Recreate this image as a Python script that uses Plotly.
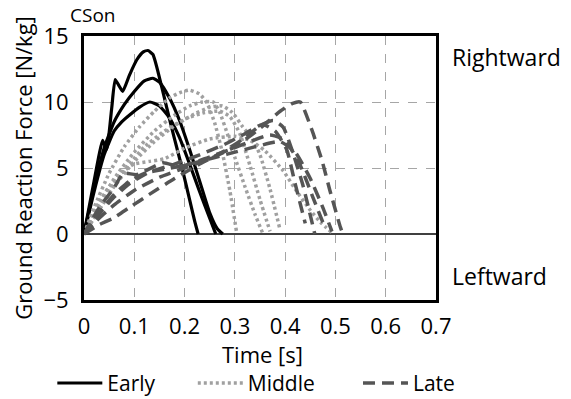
import plotly.graph_objects as go

# ---- data ----
early_t = [
    [0, 0.01, 0.02, 0.03, 0.037, 0.045, 0.055, 0.062, 0.07, 0.077, 0.09, 0.105, 0.118, 0.127, 0.137, 0.151, 0.165, 0.18, 0.195, 0.21, 0.22, 0.227],
    [0, 0.02, 0.04, 0.06, 0.08, 0.10, 0.12, 0.137, 0.15, 0.17, 0.19, 0.21, 0.23, 0.25, 0.265, 0.276],
    [0, 0.02, 0.04, 0.06, 0.075, 0.09, 0.11, 0.131, 0.15, 0.17, 0.19, 0.21, 0.23, 0.25, 0.262],
]
early_v = [
    [0, 2.0, 4.0, 6.0, 7.1, 6.4, 9.5, 11.7, 11.2, 10.8, 12.0, 13.2, 13.8, 13.9, 13.6, 11.7, 9.5, 7.2, 5.0, 2.6, 1.0, 0],
    [0, 3.5, 6.5, 8.5, 9.8, 10.8, 11.6, 11.8, 11.5, 10.3, 8.6, 6.4, 4.0, 1.6, 0.4, 0],
    [0, 3.2, 6.0, 7.8, 8.5, 9.0, 9.6, 10.0, 9.7, 8.8, 7.3, 5.3, 3.2, 1.2, 0],
]
middle_t = [
    [0, 0.02, 0.05, 0.08, 0.11, 0.14, 0.17, 0.19, 0.21, 0.23, 0.245, 0.26, 0.275, 0.29, 0.304],
    [0, 0.03, 0.06, 0.10, 0.14, 0.18, 0.21, 0.235, 0.257, 0.27, 0.285, 0.30, 0.32, 0.34, 0.356],
    [0, 0.03, 0.06, 0.10, 0.14, 0.18, 0.22, 0.25, 0.275, 0.295, 0.316, 0.335, 0.35, 0.37, 0.39],
    [0, 0.03, 0.05, 0.08, 0.10, 0.13, 0.16, 0.20, 0.25, 0.30, 0.33, 0.36, 0.396, 0.42, 0.45, 0.47, 0.493],
    [0, 0.03, 0.06, 0.09, 0.12, 0.16, 0.20, 0.24, 0.27, 0.29, 0.31, 0.33, 0.35, 0.37],
]
middle_v = [
    [0, 2.0, 4.6, 6.6, 8.1, 9.3, 10.3, 10.7, 10.9, 10.6, 9.9, 8.4, 6.2, 3.3, 0],
    [0, 2.2, 4.2, 6.2, 7.8, 9.0, 9.7, 10.0, 10.0, 9.2, 7.6, 5.8, 3.6, 1.5, 0],
    [0, 1.8, 3.6, 5.5, 7.0, 8.2, 9.1, 9.6, 9.7, 9.2, 8.1, 7.2, 6.0, 3.4, 0.3],
    [0, 2.4, 3.6, 4.8, 5.3, 5.5, 5.7, 6.5, 7.2, 7.4, 7.1, 6.3, 4.8, 3.4, 1.8, 0.9, 0.1],
    [0, 1.9, 3.8, 5.3, 6.6, 7.8, 8.7, 9.2, 9.3, 8.9, 7.6, 5.2, 2.6, 0.2],
]
late_t = [
    [0, 0.03, 0.06, 0.10, 0.15, 0.20, 0.25, 0.30, 0.35, 0.39, 0.415, 0.43, 0.453, 0.473, 0.489, 0.51, 0.515],
    [0, 0.03, 0.058, 0.09, 0.13, 0.18, 0.23, 0.28, 0.32, 0.35, 0.376, 0.396, 0.416, 0.436, 0.459],
    [0, 0.03, 0.06, 0.09, 0.13, 0.18, 0.23, 0.28, 0.32, 0.355, 0.38, 0.403, 0.42, 0.44],
    [0, 0.03, 0.06, 0.078, 0.105, 0.157, 0.19, 0.24, 0.29, 0.33, 0.37, 0.40, 0.43, 0.455, 0.48],
    [0, 0.03, 0.06, 0.09, 0.12, 0.16, 0.21, 0.26, 0.31, 0.35, 0.39, 0.42, 0.45, 0.475, 0.493],
]
late_v = [
    [0, 1.2, 2.2, 3.3, 4.3, 5.0, 5.7, 6.6, 8.0, 9.3, 9.9, 10.0, 7.9, 5.6, 3.3, 0.5, 0],
    [0, 0.7, 1.2, 2.0, 3.0, 4.2, 5.3, 6.3, 7.3, 8.2, 8.6, 8.1, 6.1, 3.6, 0],
    [0, 1.5, 2.8, 3.8, 4.7, 5.3, 6.0, 6.8, 7.6, 8.3, 7.8, 6.4, 3.8, 0.8],
    [0, 2.0, 3.5, 4.6, 4.5, 5.4, 5.1, 5.7, 6.4, 7.0, 7.5, 7.1, 5.2, 2.8, 0.4],
    [0, 1.6, 3.0, 4.0, 4.6, 4.9, 5.3, 5.8, 6.3, 6.7, 7.0, 6.2, 4.2, 2.0, 0.2],
]

series_names = ["Early", "Middle", "Late"]
legend_pad = [6, 7, 0]   # trailing non-breaking spaces to space legend items

groups = [
    (early_t, early_v, dict(color="#000000", width=3.2, dash="solid")),
    (middle_t, middle_v, dict(color="#a0a0a0", width=3.5, dash="3px,3px")),
    (late_t, late_v, dict(color="#555555", width=3.5, dash="12px,7px")),
]

x_ticks = [0, 0.1, 0.2, 0.3, 0.4, 0.5, 0.6, 0.7]
y_ticks = [-5, 0, 5, 10, 15]

FONT = "Open Sans"

fig = go.Figure()
for name, pad, (ts, vs, style) in zip(series_names, legend_pad, groups):
    for i, (t, v) in enumerate(zip(ts, vs)):
        fig.add_trace(go.Scatter(
            x=t, y=v, mode="lines", name=name + "\u00a0" * pad, legendgroup=name,
            showlegend=(i == 0), line=dict(shape="spline", smoothing=0.5, **style),
        ))

fig.update_layout(
    width=571, height=399,
    margin=dict(l=76, r=143, t=28, b=107, autoexpand=False),
    paper_bgcolor="white", plot_bgcolor="white",
    font=dict(family=FONT, size=22, color="#000000"),
    showlegend=True,
    legend=dict(orientation="h", x=-0.09, xanchor="left", y=-0.238, yanchor="top",
                font=dict(size=21), tracegroupgap=0, itemwidth=45),
    xaxis=dict(range=[0, 0.7], tickvals=x_ticks, ticktext=[str(t) if t else "0" for t in x_ticks],
               showgrid=True, gridcolor="#a6a6a6", griddash="dash", gridwidth=1,
               showline=True, linecolor="#000000", linewidth=3, mirror=True,
               zeroline=False, ticks="", ticklabelstandoff=5, automargin=False,
               tickfont=dict(size=22)),
    yaxis=dict(range=[-5, 15], tickvals=y_ticks,
               showgrid=True, gridcolor="#a6a6a6", griddash="dash", gridwidth=1,
               showline=True, linecolor="#000000", linewidth=3, mirror=True,
               zeroline=True, zerolinecolor="#404040", zerolinewidth=2,
               ticks="", ticklabelstandoff=8, automargin=False,
               tickfont=dict(size=22),
               title=dict(text="Ground Reaction Force [N/kg]", standoff=6, font=dict(size=22))),
    annotations=[
        dict(text="Time [s]", xref="paper", yref="paper", x=0.506, y=-0.205, xanchor="center",
             yanchor="middle", showarrow=False, font=dict(size=22)),
        dict(text="CSon", xref="paper", yref="paper", x=-0.045, y=1.08, xanchor="left",
             yanchor="middle", showarrow=False, font=dict(size=19)),
        dict(text="Rightward", xref="paper", yref="paper", x=1.04, y=0.92, xanchor="left",
             yanchor="middle", showarrow=False, font=dict(size=23)),
        dict(text="Leftward", xref="paper", yref="paper", x=1.04, y=0.09, xanchor="left",
             yanchor="middle", showarrow=False, font=dict(size=23)),
    ],
)

fig.write_html("out.html")
